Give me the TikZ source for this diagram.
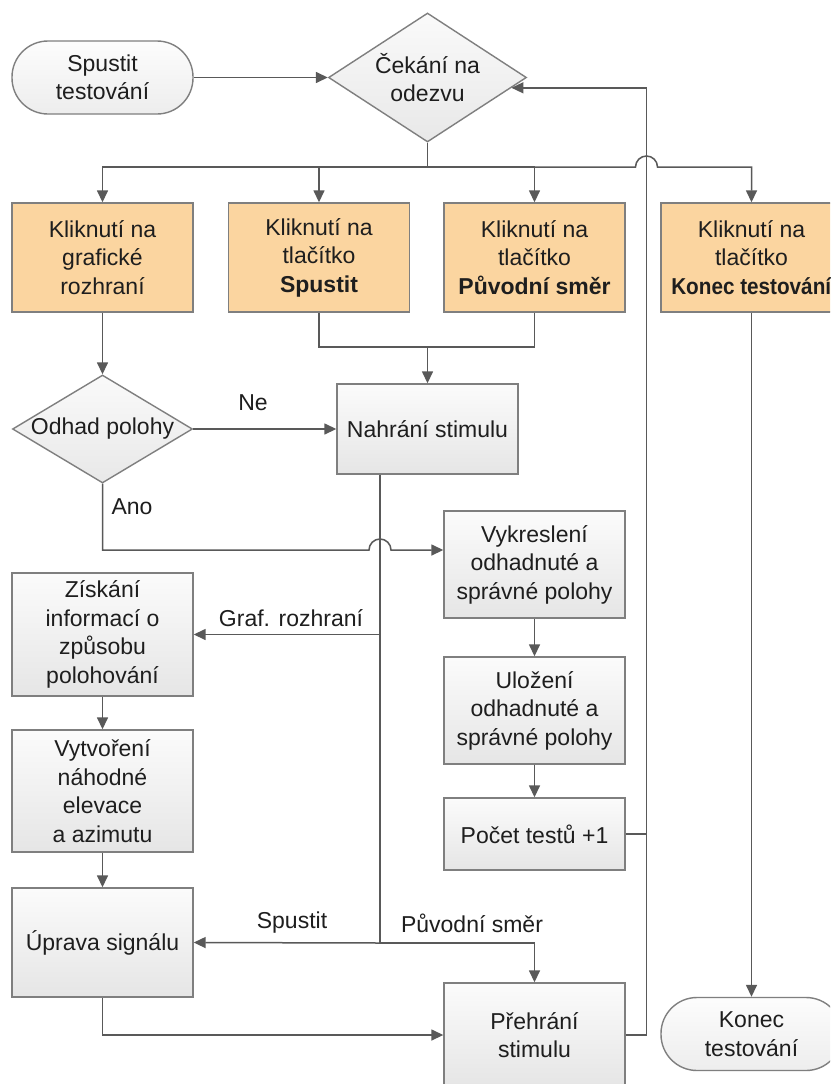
\documentclass[tikz,border=0pt]{standalone}
\usepackage{fontspec}
\setmainfont{Liberation Sans}
\usetikzlibrary{arrows.meta,shapes.geometric}
\definecolor{lineg}{HTML}{595959}
\definecolor{edgeg}{HTML}{7F7F7F}
\definecolor{clickfill}{RGB}{251,213,160}
\definecolor{txt}{HTML}{1E1E1E}
% zero-width line so the diamond size comes only from its minimum dimensions
\newcommand\nw[1]{\makebox[0pt][c]{#1}}

\begin{document}
\begin{tikzpicture}[x=1pt,y=-1pt,
  every node/.style={font=\fontsize{23}{28.5}\selectfont, text=txt},
  base/.style={draw=edgeg, line width=1.4pt, inner sep=0pt, align=center, minimum width=181pt},
  proc/.style={base, rectangle, top color=gray!3, bottom color=gray!20},
  click/.style={base, rectangle, fill=clickfill, minimum height=109pt},
  term/.style={base, rectangle, rounded corners=36pt, minimum height=73pt, top color=gray!2, bottom color=gray!14},
  decide/.style={base, diamond, top color=gray!4, bottom color=gray!18},
  conn/.style={draw=lineg, line width=1.5pt},
  arr/.style={conn, -{Triangle[length=12pt,width=11pt]}},
  lbl/.style={inner sep=0pt}
]
\path[use as bounding box, fill=white] (0,0) rectangle (830,1084);
\clip (0,0) rectangle (830,1084);

% ---- nodes ----
\node[term] (start) at (102.5,77.5) {Spustit\\testování};
\node[decide, minimum width=198pt, minimum height=129pt] (wait) at (427.5,77.5) {\nw{Čekání na}\\\nw{odezvu}};

\node[click] (k1) at (102.5,257.5) {Kliknutí na\\grafické\\rozhraní};
\node[click] (k2) at (319,257.5) {Kliknutí na\\tlačítko\\\textbf{Spustit}};
\node[click] (k3) at (534.5,257.5) {Kliknutí na\\tlačítko\\\textbf{Původní směr}};
\node[click] (k4) at (751.5,257.5) {Kliknutí na\\tlačítko\\\scalebox{0.9}[1]{\textbf{Konec testování}}};

\node[decide, minimum width=180pt, minimum height=108pt] (odhad) at (102.5,429) {\nw{Odhad polohy}};
\node[proc, minimum height=90pt] (nahrani) at (427.5,429) {Nahrání stimulu};
\node[proc, minimum height=107pt] (vykresleni) at (534.5,564.5) {Vykreslení\\odhadnuté a\\správné polohy};
\node[proc, minimum height=123pt] (ziskani) at (102.5,634.5) {Získání\\informací o\\způsobu\\polohování};
\node[proc, minimum height=107pt] (ulozeni) at (534.5,710.5) {Uložení\\odhadnuté a\\správné polohy};
\node[proc, minimum height=122pt] (vytvoreni) at (102.5,791) {Vytvoření\\náhodné\\elevace\\a azimutu};
\node[proc, minimum height=72pt] (pocet) at (534.5,834) {Počet testů +1};
\node[proc, minimum height=109pt] (uprava) at (102.5,942.5) {Úprava signálu};
\node[proc, minimum height=104pt] (prehrani) at (534.5,1035) {Přehrání\\stimulu};
\node[term] (konec) at (751.5,1034) {Konec\\testování};

% ---- helper points ----
\coordinate (bus) at (427.5,167);
\coordinate (fb) at (646.5,500);
\coordinate (merge) at (427.5,347);
\coordinate (anoY) at (0,550);
\coordinate (trunk) at (380,943);

% ---- connectors ----
\draw[arr] (start) -- (wait);
\draw[conn] (wait.south) -- (bus);
\draw[arr] (bus) -| (k1.north);
\draw[arr] (bus) -| (k2.north);
\draw[arr] (bus) -| (k3.north);
\draw[arr] (bus) -- (635.5,167) arc[start angle=180,end angle=0,radius=11pt] -| (k4.north);

\draw[arr] (prehrani.east) -| (fb) |- (wait.-7);
\draw[conn] (pocet.east) -- (pocet.east -| fb);

\draw[arr] (k1) -- (odhad);
\draw[conn] (k2.south) |- (merge);
\draw[conn] (k3.south) |- (merge);
\draw[arr] (merge) -- (nahrani.north);

\draw[arr] (odhad) -- (nahrani);
\node[lbl] (lne) at (253,403) {Ne};
\draw[arr] (odhad.south) |- (369,550) arc[start angle=180,end angle=0,radius=11pt] -- (vykresleni.west |- anoY);
\node[lbl] (lano) at (132,507) {Ano};

\draw[conn] (nahrani.south -| trunk) -- (trunk);
\draw[arr] (ziskani.east -| trunk) -- (ziskani.east);
\node[lbl] (lgraf) at (291,618) {Graf. rozhraní};
\draw[arr] (trunk) -- (uprava.east);
\node[lbl] (lspust) at (292,923) {Spustit};
\draw[arr] (trunk) -| (prehrani.north);
\node[lbl] (lpuv) at (472,923) {Původní směr};

\draw[arr] (ziskani) -- (vytvoreni);
\draw[arr] (vytvoreni) -- (uprava);
\draw[arr] (uprava.south) |- (prehrani.west);
\draw[arr] (vykresleni) -- (ulozeni);
\draw[arr] (ulozeni) -- (pocet);
\draw[arr] (k4) -- (konec);
\end{tikzpicture}
\end{document}
